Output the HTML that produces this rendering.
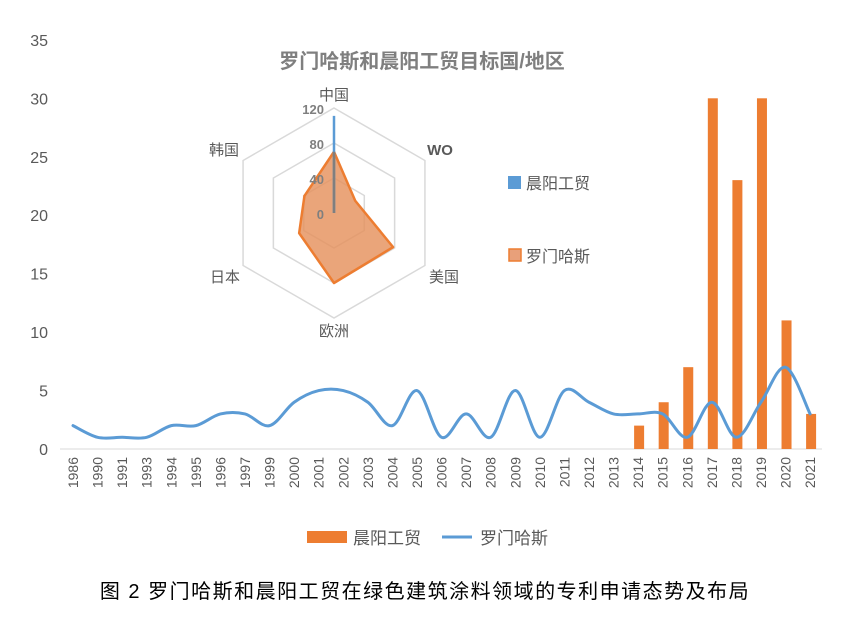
<!DOCTYPE html>
<html><head><meta charset="utf-8"><style>
body{margin:0;background:#fff;width:841px;height:630px;overflow:hidden}
svg text{font-family:"Liberation Sans","Noto Sans CJK SC",sans-serif}
</style></head><body>
<svg id="c" width="841" height="630" xmlns="http://www.w3.org/2000/svg"></svg>
<script>
const years=["1986","1990","1991","1993","1994","1995","1996","1997","1999","2000","2001","2002","2003","2004","2005","2006","2007","2008","2009","2010","2011","2012","2013","2014","2015","2016","2017","2018","2019","2020","2021"];
const lmhsCounts=[2,1,1,1,2,2,3,3,2,4,5,5,4,2,5,1,3,1,5,1,5,4,3,3,3,1,4,1,4,7,3];
const cygmCounts=[null,null,null,null,null,null,null,null,null,null,null,null,null,null,null,null,null,null,null,null,null,null,null,2,4,7,30,23,30,11,3];
const yTicks=[0,5,10,15,20,25,30,35];
const radarCats=["中国","WO","美国","欧洲","日本","韩国"];
const radarCy=[111,0,0,0,0,0];
const radarLm=[70,28,78,80,46,39];
const radarTicks=[0,40,80,120];

const svg=document.getElementById('c');const NS='http://www.w3.org/2000/svg';
function el(t,a,p){const e=document.createElementNS(NS,t);for(const k in a)e.setAttribute(k,a[k]);(p||svg).appendChild(e);return e;}
const x0=73,dx=24.57,yb=449,yu=11.69;
const X=i=>x0+i*dx, Y=v=>yb-v*yu;
yTicks.forEach(v=>{const t=el('text',{x:48,y:Y(v)+6,'text-anchor':'end','font-size':16,fill:'#595959'});t.textContent=v;

});
const ax=el('line',{x1:60,x2:822,y1:yb,y2:yb,stroke:'#d9d9d9','stroke-width':1});


years.forEach((y,i)=>{const t=el('text',{transform:`translate(${X(i)+5},${yb+8}) rotate(-90)`,'text-anchor':'end','font-size':14,fill:'#595959'});t.textContent=y;

});
cygmCounts.forEach((v,i)=>{if(v==null)return;const r=el('rect',{x:X(i)-4,y:Y(v),width:10,height:v*yu,fill:'#ed7d31'});

});
const pts=lmhsCounts.map((v,i)=>[X(i),Y(v)]);
let d=`M${pts[0][0]},${pts[0][1]}`;
for(let i=0;i<pts.length-1;i++){const p0=pts[i-1]||pts[i],p1=pts[i],p2=pts[i+1],p3=pts[i+2]||p2;
d+=` C${p1[0]+(p2[0]-p0[0])/6},${p1[1]+(p2[1]-p0[1])/6} ${p2[0]-(p3[0]-p1[0])/6},${p2[1]-(p3[1]-p1[1])/6} ${p2[0]},${p2[1]}`;}
const ln=el('path',{d:d,fill:'none',stroke:'#5b9bd5','stroke-width':3,'stroke-linecap':'round'});


const cx=334,cy=213,R=105,rmax=120;
const ang=i=>-Math.PI/2+i*Math.PI/3;
const RP=(i,v)=>[cx+Math.cos(ang(i))*v/rmax*R,cy+Math.sin(ang(i))*v/rmax*R];
radarTicks.slice(1).forEach(t=>{const p=radarCats.map((c,i)=>RP(i,t).join(',')).join(' ');const g=el('polygon',{points:p,fill:'none',stroke:'#d9d9d9','stroke-width':1.5});

});
const lp=el('polygon',{points:radarLm.map((v,i)=>RP(i,v).join(',')).join(' '),fill:'#e58e59','fill-opacity':0.8,stroke:'#ed7d31','stroke-width':2.5,'stroke-linejoin':'round'});


const cp=el('polygon',{points:radarCy.map((v,i)=>RP(i,v).join(',')).join(' '),fill:'none',stroke:'#5b9bd5','stroke-width':2.5});


el('line',{x1:cx,y1:cy,x2:cx,y2:RP(0,Math.min(radarLm[0],radarCy[0]))[1],stroke:'#7f7f7f','stroke-width':2.5});
radarTicks.forEach(t=>{const tx=el('text',{x:cx-10,y:cy-t/rmax*R+6,'text-anchor':'end','font-size':13,'font-weight':'bold',fill:'#7f7f7f'});tx.textContent=t;

});
const lpos=[[334,100],[440,155],[444,282],[334,336],[225,282],[224,155]];
radarCats.forEach((c,i)=>{const tx=el('text',{x:lpos[i][0],y:lpos[i][1],'text-anchor':'middle','font-size':15,fill:'#595959','font-weight':c=='WO'?'bold':'normal'});tx.textContent=c;

});
</script>
<svg style="position:absolute;left:0;top:0" width="841" height="630" xmlns="http://www.w3.org/2000/svg">
<text x="422" y="68" text-anchor="middle" font-size="20" font-weight="bold" fill="#7f7f7f">罗门哈斯和晨阳工贸目标国/地区</text>
<g><rect x="508" y="176" width="13" height="13" fill="#5b9bd5"/><text x="526" y="189" font-size="16" fill="#595959">晨阳工贸</text></g>
<g><rect x="509" y="249" width="12" height="12" fill="#e8a07a" stroke="#ed7d31" stroke-width="1.5"/><text x="526" y="262" font-size="16" fill="#595959">罗门哈斯</text></g>
<g><rect x="307" y="531" width="40" height="12" fill="#ed7d31"/><text x="353" y="544" font-size="17" fill="#595959">晨阳工贸</text></g>
<g><line x1="442" y1="537" x2="472" y2="537" stroke="#5b9bd5" stroke-width="3"/><text x="480" y="544" font-size="17" fill="#595959">罗门哈斯</text></g>
<text x="425" y="598" text-anchor="middle" font-size="20" letter-spacing="1.5" fill="#000">图 2 罗门哈斯和晨阳工贸在绿色建筑涂料领域的专利申请态势及布局</text>
</svg>
</body></html>
